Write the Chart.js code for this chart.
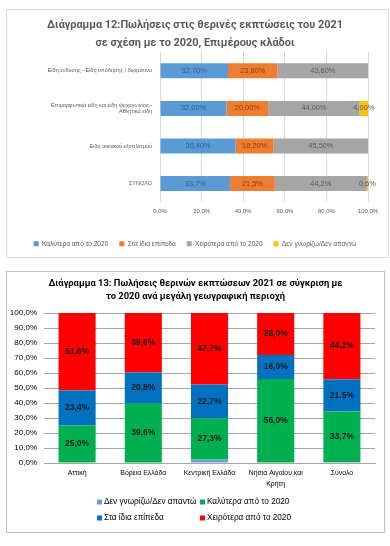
<!DOCTYPE html>
<html>
<head>
<meta charset="utf-8">
<script src="https://cdn.jsdelivr.net/npm/chart.js@4.4.1/dist/chart.umd.min.js"></script>
<style>
    body { margin: 0; background: #fff; width: 390px; height: 546px; position: relative; overflow: hidden; }
    .box { position: absolute; background: #fff; box-sizing: border-box; }
    #box1 { left: 6px; top: 9px; width: 383px; height: 249px; border: 1px solid #d9d9d9; }
    #box2 { left: 6px; top: 271px; width: 379px; height: 262px; border: 1px solid #bfbfbf; }
    .wrap { position: relative; width: 100%; height: 100%; }
</style>
</head>
<body>
<div class="box" id="box1"><div class="wrap"><canvas id="branchChart"></canvas></div></div>
<div class="box" id="box2"><div class="wrap"><canvas id="regionChart"></canvas></div></div>
<script>
// Διάγραμμα 12 - κλάδοι
const branchLabels = [
    'Είδη ένδυσης - Είδη υπόδησης / δερμάτινα',
    ['Επιμορφωτικά είδη και είδη ψυχαγωγίας -', 'Αθλητικά είδη'],
    'Είδη οικιακού εξοπλισμού',
    'ΣΥΝΟΛΟ'
];
const branchBetter = [32.7, 32.0, 36.4, 33.7];
const branchSame = [23.8, 20.0, 18.2, 21.5];
const branchWorse = [43.6, 44.0, 45.5, 44.2];
const branchUnknown = [0, 4.0, 0, 0.6];
const branchDecimals = [2, 2, 2, 1];
const branchTicks = [0, 20, 40, 60, 80, 100];

// Διάγραμμα 13 - περιοχές
const regionLabels = ['Αττική', 'Βόρεια Ελλάδα', 'Κεντρική Ελλάδα', ['Νησιά Αιγαίου και', 'Κρήτη'], 'Σύνολο'];
const regionUnknown = [0, 0, 2.3, 0, 0.6];
const regionBetter = [25.0, 39.6, 27.3, 56.0, 33.7];
const regionSame = [23.4, 20.8, 22.7, 16.0, 21.5];
const regionWorse = [51.6, 39.6, 47.7, 28.0, 44.2];

const SANS = "'Liberation Sans', Arial, sans-serif";
const ROBOTO = "Roboto, 'Liberation Sans', sans-serif";
const pct = (v, d) => v.toFixed(d).replace('.', ',') + '%';

// pick a font size so that a sample text gets the width it has in the original
const measureCtx = document.createElement('canvas').getContext('2d');
function fitSize(text, family, weight, width) {
    measureCtx.font = `${weight} 100px ${family}`;
    return Math.round(1000 * width / measureCtx.measureText(text).width) / 10;
}

const title1Size = fitSize('Διάγραμμα 12:Πωλήσεις στις θερινές εκπτώσεις του 2021', ROBOTO, 'bold', 295);
const cat1Size = fitSize('Είδη ένδυσης - Είδη υπόδησης / δερμάτινα', SANS, 'normal', 104);
const legend1Size = fitSize('Καλύτερα από το 2020', SANS, 'normal', 66);
const value1Size = fitSize('32,70%', SANS, 'normal', 25);
const tick1Size = fitSize('100,0%', SANS, 'normal', 20);

const title2Size = fitSize('Διάγραμμα 13: Πωλήσεις θερινών εκπτώσεων 2021 σε σύγκριση με', ROBOTO, 'bold', 295);
const cat2Size = fitSize('Βόρεια Ελλάδα', SANS, 'normal', 46);
const tick2Size = fitSize('100,0%', SANS, 'normal', 27);
const legend2Size = fitSize('Καλύτερα από το 2020', SANS, 'normal', 83);
const value2Size = fitSize('51,6%', SANS, 'bold', 24);

// empty axis used as right margin, so the title stays centred on the whole box
const spacer = (w) => ({
    type: 'linear', axis: 'y', position: 'right', display: true,
    afterFit: (scale) => { scale.width = w; },
    ticks: { display: false },
    grid: { display: false, drawTicks: false },
    border: { display: false }
});

// values written in the middle of each segment
const valueLabels = {
    id: 'valueLabels',
    afterDatasetsDraw(chart, args, opts) {
        const {ctx} = chart;
        const horizontal = chart.options.indexAxis === 'y';
        ctx.save();
        ctx.font = opts.font;
        ctx.textAlign = 'center';
        ctx.textBaseline = 'middle';
        chart.data.datasets.forEach((ds, di) => {
            if (!ds.labelColor) return;
            chart.getDatasetMeta(di).data.forEach((el, i) => {
                const v = ds.data[i];
                if (!v) return;
                const p = el.getProps(['x', 'y', 'base'], true);
                const x = horizontal ? (p.x + p.base) / 2 : p.x;
                const y = horizontal ? p.y : (p.y + p.base) / 2;
                ctx.fillStyle = ds.labelColor;
                ctx.fillText(opts.format(v, i), x, y);
            });
        });
        ctx.restore();
    }
};

// 2x2 legend like the original
const gridLegend = {
    id: 'gridLegend',
    afterDraw(chart, args, opts) {
        const {ctx} = chart;
        ctx.save();
        ctx.font = opts.font;
        ctx.textBaseline = 'middle';
        chart.data.datasets.forEach((ds, i) => {
            const col = i % 2, row = Math.floor(i / 2);
            const x = opts.left + col * opts.colWidth;
            const y = chart.height - opts.bottom + row * opts.rowHeight;
            ctx.fillStyle = ds.backgroundColor;
            ctx.fillRect(x, y - 2.5, 5, 5);
            ctx.fillStyle = opts.color;
            ctx.fillText(ds.label, x + 7, y);
        });
        ctx.restore();
    }
};

new Chart(document.getElementById('branchChart'), {
    type: 'bar',
    data: {
        labels: branchLabels,
        datasets: [
            { label: 'Καλύτερα από το 2020', data: branchBetter, backgroundColor: '#5b9bd5', labelColor: '#2e5f8f' },
            { label: 'Στα ίδια επίπεδα', data: branchSame, backgroundColor: '#ed7d31', labelColor: '#8a3f0b' },
            { label: 'Χειρότερα από το 2020', data: branchWorse, backgroundColor: '#a5a5a5', labelColor: '#5a5a5a' },
            { label: 'Δεν γνωρίζω/Δεν απαντώ', data: branchUnknown, backgroundColor: '#ffc000', labelColor: '#595959' }
        ]
    },
    options: {
        indexAxis: 'y',
        responsive: true,
        maintainAspectRatio: false,
        animation: false,
        barPercentage: 0.4,
        categoryPercentage: 1,
        layout: { padding: { left: 0, right: 5, top: 0, bottom: 0 } },
        plugins: {
            title: {
                display: true,
                text: ['Διάγραμμα 12:Πωλήσεις στις θερινές εκπτώσεις του 2021', 'σε σχέση με το 2020, Επιμέρους κλάδοι'],
                color: '#595959',
                font: { family: ROBOTO, size: title1Size, weight: 'bold', lineHeight: '18px' },
                padding: { top: 6, bottom: 0 }
            },
            legend: {
                position: 'bottom',
                labels: {
                    boxWidth: 5, boxHeight: 5, padding: 11, color: '#595959',
                    font: { family: SANS, size: legend1Size }
                }
            },
            tooltip: { enabled: false },
            valueLabels: {
                font: `${value1Size}px ${SANS}`,
                format: (v, i) => pct(v, branchDecimals[i])
            }
        },
        scales: {
            x: {
                stacked: true, min: 0, max: 100,
                afterBuildTicks: (scale) => { scale.ticks = branchTicks.map(v => ({ value: v })); },
                afterFit: (scale) => { scale.height = 27; },
                ticks: { callback: v => pct(v, 1), color: '#595959', font: { family: SANS, size: tick1Size }, padding: 5 },
                grid: { color: '#d9d9d9', drawTicks: false },
                border: { display: false }
            },
            y: {
                stacked: true,
                afterFit: (scale) => { scale.width = 153; },
                ticks: { color: '#595959', font: { family: SANS, size: cat1Size }, padding: 8 },
                grid: { display: false, drawTicks: false },
                border: { display: false }
            },
            right: spacer(15)
        }
    },
    plugins: [valueLabels]
});

new Chart(document.getElementById('regionChart'), {
    type: 'bar',
    data: {
        labels: regionLabels,
        datasets: [
            { label: 'Δεν γνωρίζω/Δεν απαντώ', data: regionUnknown, backgroundColor: '#6a9fd4' },
            { label: 'Καλύτερα από το 2020', data: regionBetter, backgroundColor: '#00b050', labelColor: '#1a1a1a' },
            { label: 'Στα ίδια επίπεδα', data: regionSame, backgroundColor: '#0070c0', labelColor: '#1a1a1a' },
            { label: 'Χειρότερα από το 2020', data: regionWorse, backgroundColor: '#ff0000', labelColor: '#1a1a1a' }
        ]
    },
    options: {
        responsive: true,
        maintainAspectRatio: false,
        animation: false,
        barPercentage: 0.56,
        categoryPercentage: 1,
        layout: { padding: { left: 0, right: 0, top: 0, bottom: 38 } },
        plugins: {
            title: {
                display: true,
                text: ['Διάγραμμα 13: Πωλήσεις θερινών εκπτώσεων 2021 σε σύγκριση με', 'το 2020 ανά μεγάλη γεωγραφική περιοχή'],
                color: '#000',
                font: { family: ROBOTO, size: title2Size, weight: 'bold', lineHeight: '13px' },
                padding: { top: 5.5, bottom: 9.5 }
            },
            legend: { display: false },
            tooltip: { enabled: false },
            valueLabels: {
                font: `bold ${value2Size}px ${SANS}`,
                format: (v) => pct(v, 1)
            },
            gridLegend: {
                font: `${legend2Size}px ${SANS}`, color: '#000',
                left: 90, colWidth: 103, rowHeight: 16, bottom: 30
            }
        },
        scales: {
            x: {
                stacked: true,
                afterFit: (scale) => { scale.height = 31; },
                ticks: { color: '#000', font: { family: SANS, size: cat2Size, lineHeight: 1.6 }, maxRotation: 0, autoSkip: false, padding: 5 },
                grid: { display: false, drawTicks: false },
                border: { color: '#a6a6a6' }
            },
            y: {
                stacked: true, min: 0, max: 100,
                afterFit: (scale) => { scale.width = 37; },
                ticks: { stepSize: 10, callback: v => pct(v, 1), color: '#000', font: { family: SANS, size: tick2Size }, padding: 7 },
                grid: { color: '#a6a6a6', drawTicks: false },
                border: { display: false }
            },
            right: spacer(9)
        }
    },
    plugins: [valueLabels, gridLegend]
});
</script>
</body>
</html>
